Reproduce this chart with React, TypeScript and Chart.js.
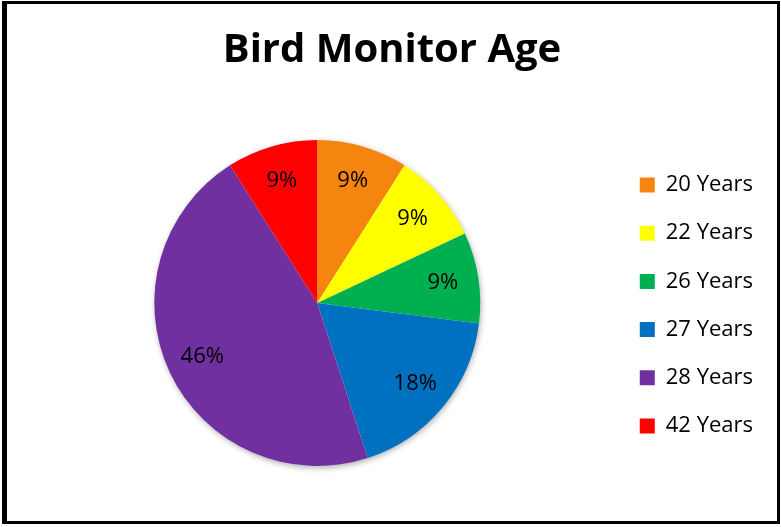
import React, { useEffect, useRef } from "react";
import { Chart, registerables } from "chart.js";

Chart.register(...registerables);

const categories = ["20 Years", "22 Years", "26 Years", "27 Years", "28 Years", "42 Years"];
const values = [9, 9, 9, 18, 46, 9];
const percentLabels = ["9%", "9%", "9%", "18%", "46%", "9%"];
const colors = ["#F5850F", "#FFFF00", "#00B050", "#0070C0", "#7030A0", "#FF0000"];
const titleText = "Bird Monitor Age";

const FONT = "'Open Sans', 'DejaVu Sans', sans-serif";

const pieShadow = {
  id: "pieShadow",
  beforeDatasetsDraw(chart: any) {
    const meta = chart.getDatasetMeta(0);
    const arc = meta.data[0];
    if (!arc) return;
    const ctx = chart.ctx;
    ctx.save();
    ctx.shadowColor = "rgba(0,0,0,0.35)";
    ctx.shadowBlur = 6;
    ctx.shadowOffsetX = 1;
    ctx.shadowOffsetY = 2;
    ctx.fillStyle = "#ffffff";
    ctx.beginPath();
    ctx.arc(arc.x, arc.y, arc.outerRadius - 0.5, 0, Math.PI * 2);
    ctx.fill();
    ctx.restore();
  },
};

const sliceLabels = {
  id: "sliceLabels",
  afterDatasetsDraw(chart: any) {
    const meta = chart.getDatasetMeta(0);
    const ctx = chart.ctx;
    ctx.save();
    ctx.font = `22px ${FONT}`;
    ctx.fillStyle = "#000000";
    ctx.textAlign = "center";
    ctx.textBaseline = "middle";
    meta.data.forEach((arc: any, i: number) => {
      const mid = (arc.startAngle + arc.endAngle) / 2;
      const r = arc.outerRadius * 0.78;
      ctx.fillText(percentLabels[i], arc.x + Math.cos(mid) * r, arc.y + Math.sin(mid) * r);
    });
    ctx.restore();
  },
};

export default function App() {
  const ref = useRef<HTMLCanvasElement | null>(null);

  useEffect(() => {
    if (!ref.current) return;
    const chart = new Chart(ref.current, {
      type: "pie",
      data: {
        labels: categories,
        datasets: [
          {
            data: values,
            backgroundColor: colors,
            borderWidth: 0,
          },
        ],
      },
      options: {
        animation: false,
        responsive: false,
        devicePixelRatio: 1,
        layout: { padding: { left: 21, right: 18, top: 0, bottom: 61 } },
        plugins: {
          title: {
            display: true,
            text: titleText,
            color: "#000000",
            font: { family: FONT, size: 40, weight: "bold", lineHeight: 1.2 },
            padding: { top: 27, bottom: 65 },
          },
          legend: {
            display: true,
            position: "right",
            align: "center",
            title: {
              display: true,
              text: "",
              font: { size: 1, lineHeight: 1 },
              padding: { top: 144, bottom: 0 },
            },
            labels: {
              boxWidth: 15,
              boxHeight: 15,
              padding: 26.2,
              color: "#000000",
              font: { family: FONT, size: 22 },
            },
          },
          tooltip: { enabled: false },
        },
      },
      plugins: [pieShadow, sliceLabels],
    });
    return () => chart.destroy();
  }, []);

  return (
    <div style={{ position: "absolute", left: 0, top: 0, width: 781, height: 527, background: "#fff" }}>
      <canvas ref={ref} width={781} height={527} style={{ position: "absolute", left: 0, top: 0 }} />
      <div
        style={{
          position: "absolute",
          left: 2,
          top: 1,
          width: 778,
          height: 523,
          boxSizing: "border-box",
          borderStyle: "solid",
          borderColor: "#000",
          borderLeftWidth: 5,
          borderTopWidth: 3,
          borderRightWidth: 3,
          borderBottomWidth: 3,
          pointerEvents: "none",
        }}
      />
    </div>
  );
}
